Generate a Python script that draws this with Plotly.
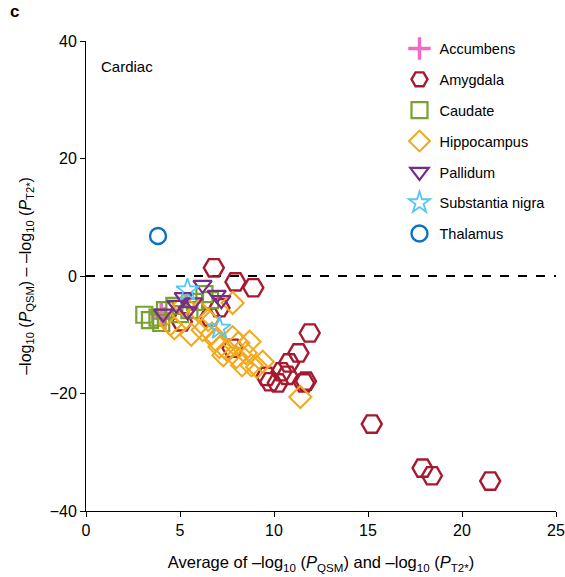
import plotly.graph_objects as go

# ---- data ----
acc_x = [4.0, 4.2]
acc_y = [-6.4, -7.2]

amy_x = [6.8, 7.95, 8.9, 7.1, 6.6, 5.1, 7.8, 11.9, 11.3, 10.8, 10.4, 9.6, 9.8, 10.2, 10.7, 11.6, 11.7, 15.2, 17.9, 18.4, 21.5]
amy_y = [1.4, -1.0, -2.0, -5.4, -7.0, -7.8, -12.3, -9.7, -13.1, -14.8, -16.3, -17.1, -18.0, -18.2, -16.9, -18.2, -17.9, -25.2, -32.7, -34.0, -34.9]

cau_x = [3.1, 3.4, 3.8, 4.2, 4.7, 5.5, 5.8, 6.3, 6.6, 4.0, 5.0]
cau_y = [-6.6, -7.5, -7.1, -5.8, -5.1, -5.8, -4.4, -3.1, -4.1, -8.0, -6.5]

hip_x = [7.8, 5.6, 4.7, 6.2, 6.5, 6.9, 7.1, 7.5, 7.8, 8.1, 8.7, 8.5, 8.3, 8.8, 9.1, 9.4, 11.4, 4.5, 6.0, 5.2, 7.3, 8.0, 6.7]
hip_y = [-4.6, -10.0, -8.9, -9.2, -7.5, -10.9, -12.1, -12.6, -10.4, -11.4, -11.2, -13.1, -15.2, -15.2, -15.5, -14.6, -20.6, -8.2, -6.0, -5.0, -13.5, -13.8, -9.8]

pal_x = [6.2, 6.95, 7.2, 5.2, 4.8, 5.4, 4.1, 5.7]
pal_y = [-1.5, -3.2, -4.1, -3.6, -4.9, -6.0, -6.4, -4.5]

sn_x = [7.1, 5.4]
sn_y = [-8.9, -2.4]

tha_x = [3.83]
tha_y = [6.8]

series = [
    ("Accumbens", acc_x, acc_y, "cross-thin-open", "#F06BC5", 16, 3.5),
    ("Amygdala", amy_x, amy_y, "hexagon2-open", "#A6192E", 20, 2.4),
    ("Caudate", cau_x, cau_y, "square-open", "#78A22F", 16, 2.2),
    ("Hippocampus", hip_x, hip_y, "diamond-open", "#F2A81D", 17, 2.0),
    ("Pallidum", pal_x, pal_y, "triangle-down-open", "#7B2A8B", 16, 2.2),
    ("Substantia nigra", sn_x, sn_y, "star-open", "#56C6F3", 17, 1.8),
    ("Thalamus", tha_x, tha_y, "circle-open", "#0C71C3", 16, 2.4),
]

x_ticks = [0, 5, 10, 15, 20, 25]
y_ticks = [-40, -20, 0, 20, 40]
y_tick_text = ["\u221240", "\u221220", "0", "20", "40"]

fig = go.Figure()
for i, (name, xs, ys, sym, col, sz, lw) in enumerate(series):
    fig.add_trace(go.Scatter(
        x=xs, y=ys, mode="markers", name=name, legendgroup=name,
        marker=dict(symbol=sym, size=sz, color=col, line=dict(color=col, width=lw)),
    ))

fig.add_shape(type="line", xref="x", yref="y", x0=0, x1=25, y0=0, y1=0,
              line=dict(color="black", width=2, dash="dash"), layer="below")

font = "Liberation Sans, Arial, Helvetica, sans-serif"
fig.update_layout(
    width=565, height=577,
    margin=dict(l=86, r=9, t=41, b=66, autoexpand=False),
    paper_bgcolor="white", plot_bgcolor="white",
    font=dict(family=font, size=15, color="black"),
    showlegend=True,
    legend=dict(x=0.667, y=1.018, xanchor="left", yanchor="top",
                font=dict(size=14.5), tracegroupgap=9, itemsizing="trace",
                bgcolor="rgba(0,0,0,0)"),
    xaxis=dict(range=[0, 25], tickvals=x_ticks, showgrid=False, zeroline=False,
               showline=True, linecolor="black", linewidth=1, automargin=False,
               ticks="outside", ticklen=5, tickcolor="black", tickfont=dict(size=16),
               title=dict(text="Average of \u2013log<sub>10</sub> (<i>P</i><sub>QSM</sub>) and \u2013log<sub>10</sub> (<i>P</i><sub>T2*</sub>)",
                          font=dict(size=16.5), standoff=18)),
    yaxis=dict(range=[-40, 40], tickvals=y_ticks, ticktext=y_tick_text, showgrid=False, zeroline=False,
               showline=True, linecolor="black", linewidth=1, automargin=False,
               ticks="outside", ticklen=5, tickcolor="black", tickfont=dict(size=16),
               title=dict(text="\u2013log<sub>10</sub> (<i>P</i><sub>QSM</sub>) \u2013 \u2013log<sub>10</sub> (<i>P</i><sub>T2*</sub>)",
                          font=dict(size=16), standoff=14)),
)

fig.add_annotation(x=0.028, y=0.945, xref="paper", yref="paper", text="Cardiac",
                   showarrow=False, xanchor="left", yanchor="middle", font=dict(size=15))
fig.add_annotation(x=-0.165, y=1.062, xref="paper", yref="paper", text="<b>c</b>",
                   showarrow=False, xanchor="left", yanchor="middle", font=dict(size=17))

fig.write_html("out.html", config={"displayModeBar": False},
               post_script="document.body.style.margin='0';")
